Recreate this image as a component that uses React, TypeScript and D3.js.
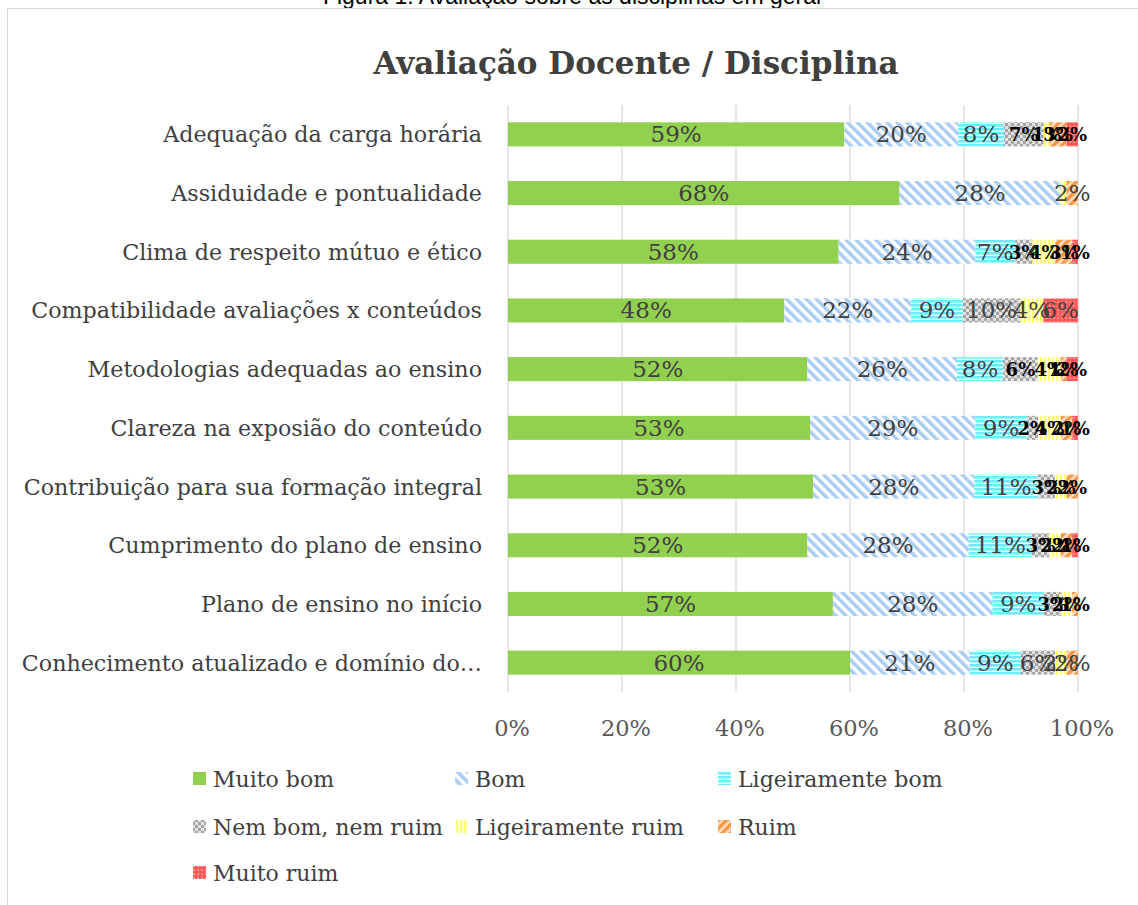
import React from "react";
import * as d3 from "d3";

// categories top to bottom, as they appear in the chart
const categories = [
  "Adequação da carga horária",
  "Assiduidade e pontualidade",
  "Clima de respeito mútuo e ético",
  "Compatibilidade avaliações x conteúdos",
  "Metodologias adequadas ao ensino",
  "Clareza na exposião do conteúdo",
  "Contribuição para sua formação integral",
  "Cumprimento do plano de ensino",
  "Plano de ensino no início",
  "Conhecimento atualizado e domínio do…",
];

const seriesNames = [
  "Muito bom",
  "Bom",
  "Ligeiramente bom",
  "Nem bom, nem ruim",
  "Ligeiramente ruim",
  "Ruim",
  "Muito ruim",
];

const muitoBom = [59, 68, 58, 48, 52, 53, 53, 52, 57, 60];
const bom = [20, 28, 24, 22, 26, 29, 28, 28, 28, 21];
const ligeiramenteBom = [8, 0, 7, 9, 8, 9, 11, 11, 9, 9];
const nemBomNemRuim = [7, 0, 3, 10, 6, 2, 3, 3, 3, 6];
const ligeiramenteRuim = [1, 1, 4, 4, 4, 4, 2, 2, 2, 2];
const ruim = [3, 2, 3, 0, 1, 2, 2, 2, 1, 2];
const muitoRuim = [2, 0, 1, 6, 2, 1, 0, 1, 0, 0];

const xTicks = [0, 0.2, 0.4, 0.6, 0.8, 1];

// rows whose small-segment labels are bold black
const boldRows = [0, 2, 4, 5, 6, 7, 8];
// labels hidden in the original (row, series)
const hiddenLabels = [[1, 4]];

const seriesValues = [muitoBom, bom, ligeiramenteBom, nemBomNemRuim, ligeiramenteRuim, ruim, muitoRuim];

const rows = categories.map((c, i) => {
  const r: any = { cat: c, idx: i };
  seriesNames.forEach((s, j) => (r[s] = seriesValues[j][i]));
  return r;
});

const fills = [
  "#92D050",
  "url(#pBom)",
  "url(#pLigBom)",
  "url(#pNem)",
  "url(#pLigRuim)",
  "url(#pRuim)",
  "url(#pMuitoRuim)",
];

const FONT = "DejaVu Serif";

export default function App() {
  const W = 1138;
  const H = 905;
  const x = d3.scaleLinear().domain([0, 1]).range([508, 1078]);
  const y = d3
    .scaleBand()
    .domain(categories)
    .range([105, 692])
    .paddingInner(0.59)
    .paddingOuter(0.295);

  const stack = d3.stack<any>().keys(seriesNames).offset(d3.stackOffsetExpand);
  const layers = stack(rows);

  const legendCols = [193, 455, 718];
  const legendRows = [779, 827, 873];

  return (
    <svg width={W} height={H} style={{ position: "absolute", left: 0, top: 0 }}>
      <defs>
        <pattern id="pBom" width="7" height="7" patternUnits="userSpaceOnUse" patternTransform="rotate(-45)">
          <rect width="7" height="7" fill="#ffffff" />
          <rect width="3.5" height="7" fill="#A9CDF2" />
        </pattern>
        <pattern id="pLigBom" width="4" height="4" patternUnits="userSpaceOnUse">
          <rect width="4" height="4" fill="#ffffff" />
          <rect width="4" height="2.6" fill="#6CEEFA" />
        </pattern>
        <pattern id="pNem" width="6" height="6" patternUnits="userSpaceOnUse">
          <rect width="6" height="6" fill="#E2E2E2" />
          <rect width="3" height="3" fill="#A5A5A5" />
          <rect x="3" y="3" width="3" height="3" fill="#A5A5A5" />
        </pattern>
        <pattern id="pLigRuim" width="4" height="4" patternUnits="userSpaceOnUse">
          <rect width="4" height="4" fill="#ffffff" />
          <rect width="2.4" height="4" fill="#FFFF6E" />
        </pattern>
        <pattern id="pRuim" width="6" height="6" patternUnits="userSpaceOnUse" patternTransform="rotate(45)">
          <rect width="6" height="6" fill="#FDE0C2" />
          <rect width="3.5" height="6" fill="#F79646" />
        </pattern>
        <pattern id="pMuitoRuim" width="4" height="4" patternUnits="userSpaceOnUse">
          <rect width="4" height="4" fill="#FF5A5A" />
          <rect x="1.5" y="1.5" width="1.3" height="1.3" fill="#FFC4C4" />
        </pattern>
      </defs>

      <rect width={W} height={H} fill="#ffffff" />
      {/* caption above the chart, clipped by the page top */}
      <text
        x={572}
        y={4}
        textAnchor="middle"
        fontFamily="Liberation Sans"
        fontSize={23}
        fill="#000"
      >
        Figura 1: Avaliação sobre as disciplinas em geral
      </text>
      <rect x={7.5} y={8.5} width={W} height={H} fill="#ffffff" stroke="#D9D9D9" />

      <text
        x={636}
        y={74}
        textAnchor="middle"
        fontFamily={FONT}
        fontWeight="bold"
        fontSize={31}
        fill="#404040"
      >
        Avaliação Docente / Disciplina
      </text>

      {/* gridlines */}
      {xTicks.map((t) => (
        <line key={t} x1={x(t)} x2={x(t)} y1={105} y2={692} stroke="#D9D9D9" strokeWidth={1.3} />
      ))}

      {/* bars */}
      {layers.map((layer, j) => (
        <g key={layer.key}>
          {layer.map((d: any, i) => (
            <rect
              key={i}
              x={x(d[0])}
              y={y(d.data.cat)}
              width={Math.max(0, x(d[1]) - x(d[0]))}
              height={y.bandwidth()}
              fill={fills[j]}
            />
          ))}
        </g>
      ))}

      {/* data labels */}
      {layers.map((layer, j) => (
        <g key={"l" + layer.key}>
          {layer.map((d: any, i) => {
            const v = seriesValues[j][i];
            if (v === 0) return null;
            if (hiddenLabels.some(([r, s]) => r === i && s === j)) return null;
            const bold = j >= 3 && boldRows.includes(i);
            const cy = (y(d.data.cat) as number) + y.bandwidth() / 2;
            return (
              <text
                key={i}
                x={x((d[0] + d[1]) / 2)}
                y={cy + (bold ? 7 : 8)}
                textAnchor="middle"
                fontFamily={FONT}
                fontWeight={bold ? "bold" : "normal"}
                fontSize={bold ? 18 : 23}
                fill={bold ? "#000000" : "#404040"}
              >
                {v}%
              </text>
            );
          })}
        </g>
      ))}

      {/* category axis labels */}
      {categories.map((c) => (
        <text
          key={c}
          x={482}
          y={(y(c) as number) + y.bandwidth() / 2 + 8}
          textAnchor="end"
          fontFamily={FONT}
          fontSize={22.2}
          fill="#404040"
        >
          {c}
        </text>
      ))}

      {/* value axis labels */}
      {xTicks.map((t) => (
        <text
          key={"t" + t}
          x={x(t) + 4}
          y={736}
          textAnchor="middle"
          fontFamily={FONT}
          fontSize={22.5}
          fill="#595959"
        >
          {d3.format(".0%")(t)}
        </text>
      ))}

      {/* legend */}
      {seriesNames.map((s, j) => {
        const col = j % 3;
        const row = Math.floor(j / 3);
        const lx = legendCols[col];
        const ly = legendRows[row];
        return (
          <g key={"lg" + s}>
            <rect x={lx} y={ly - 7} width={13} height={13} fill={fills[j]} />
            <text x={lx + 20} y={ly + 8} fontFamily={FONT} fontSize={22} fill="#404040">
              {s}
            </text>
          </g>
        );
      })}
    </svg>
  );
}
